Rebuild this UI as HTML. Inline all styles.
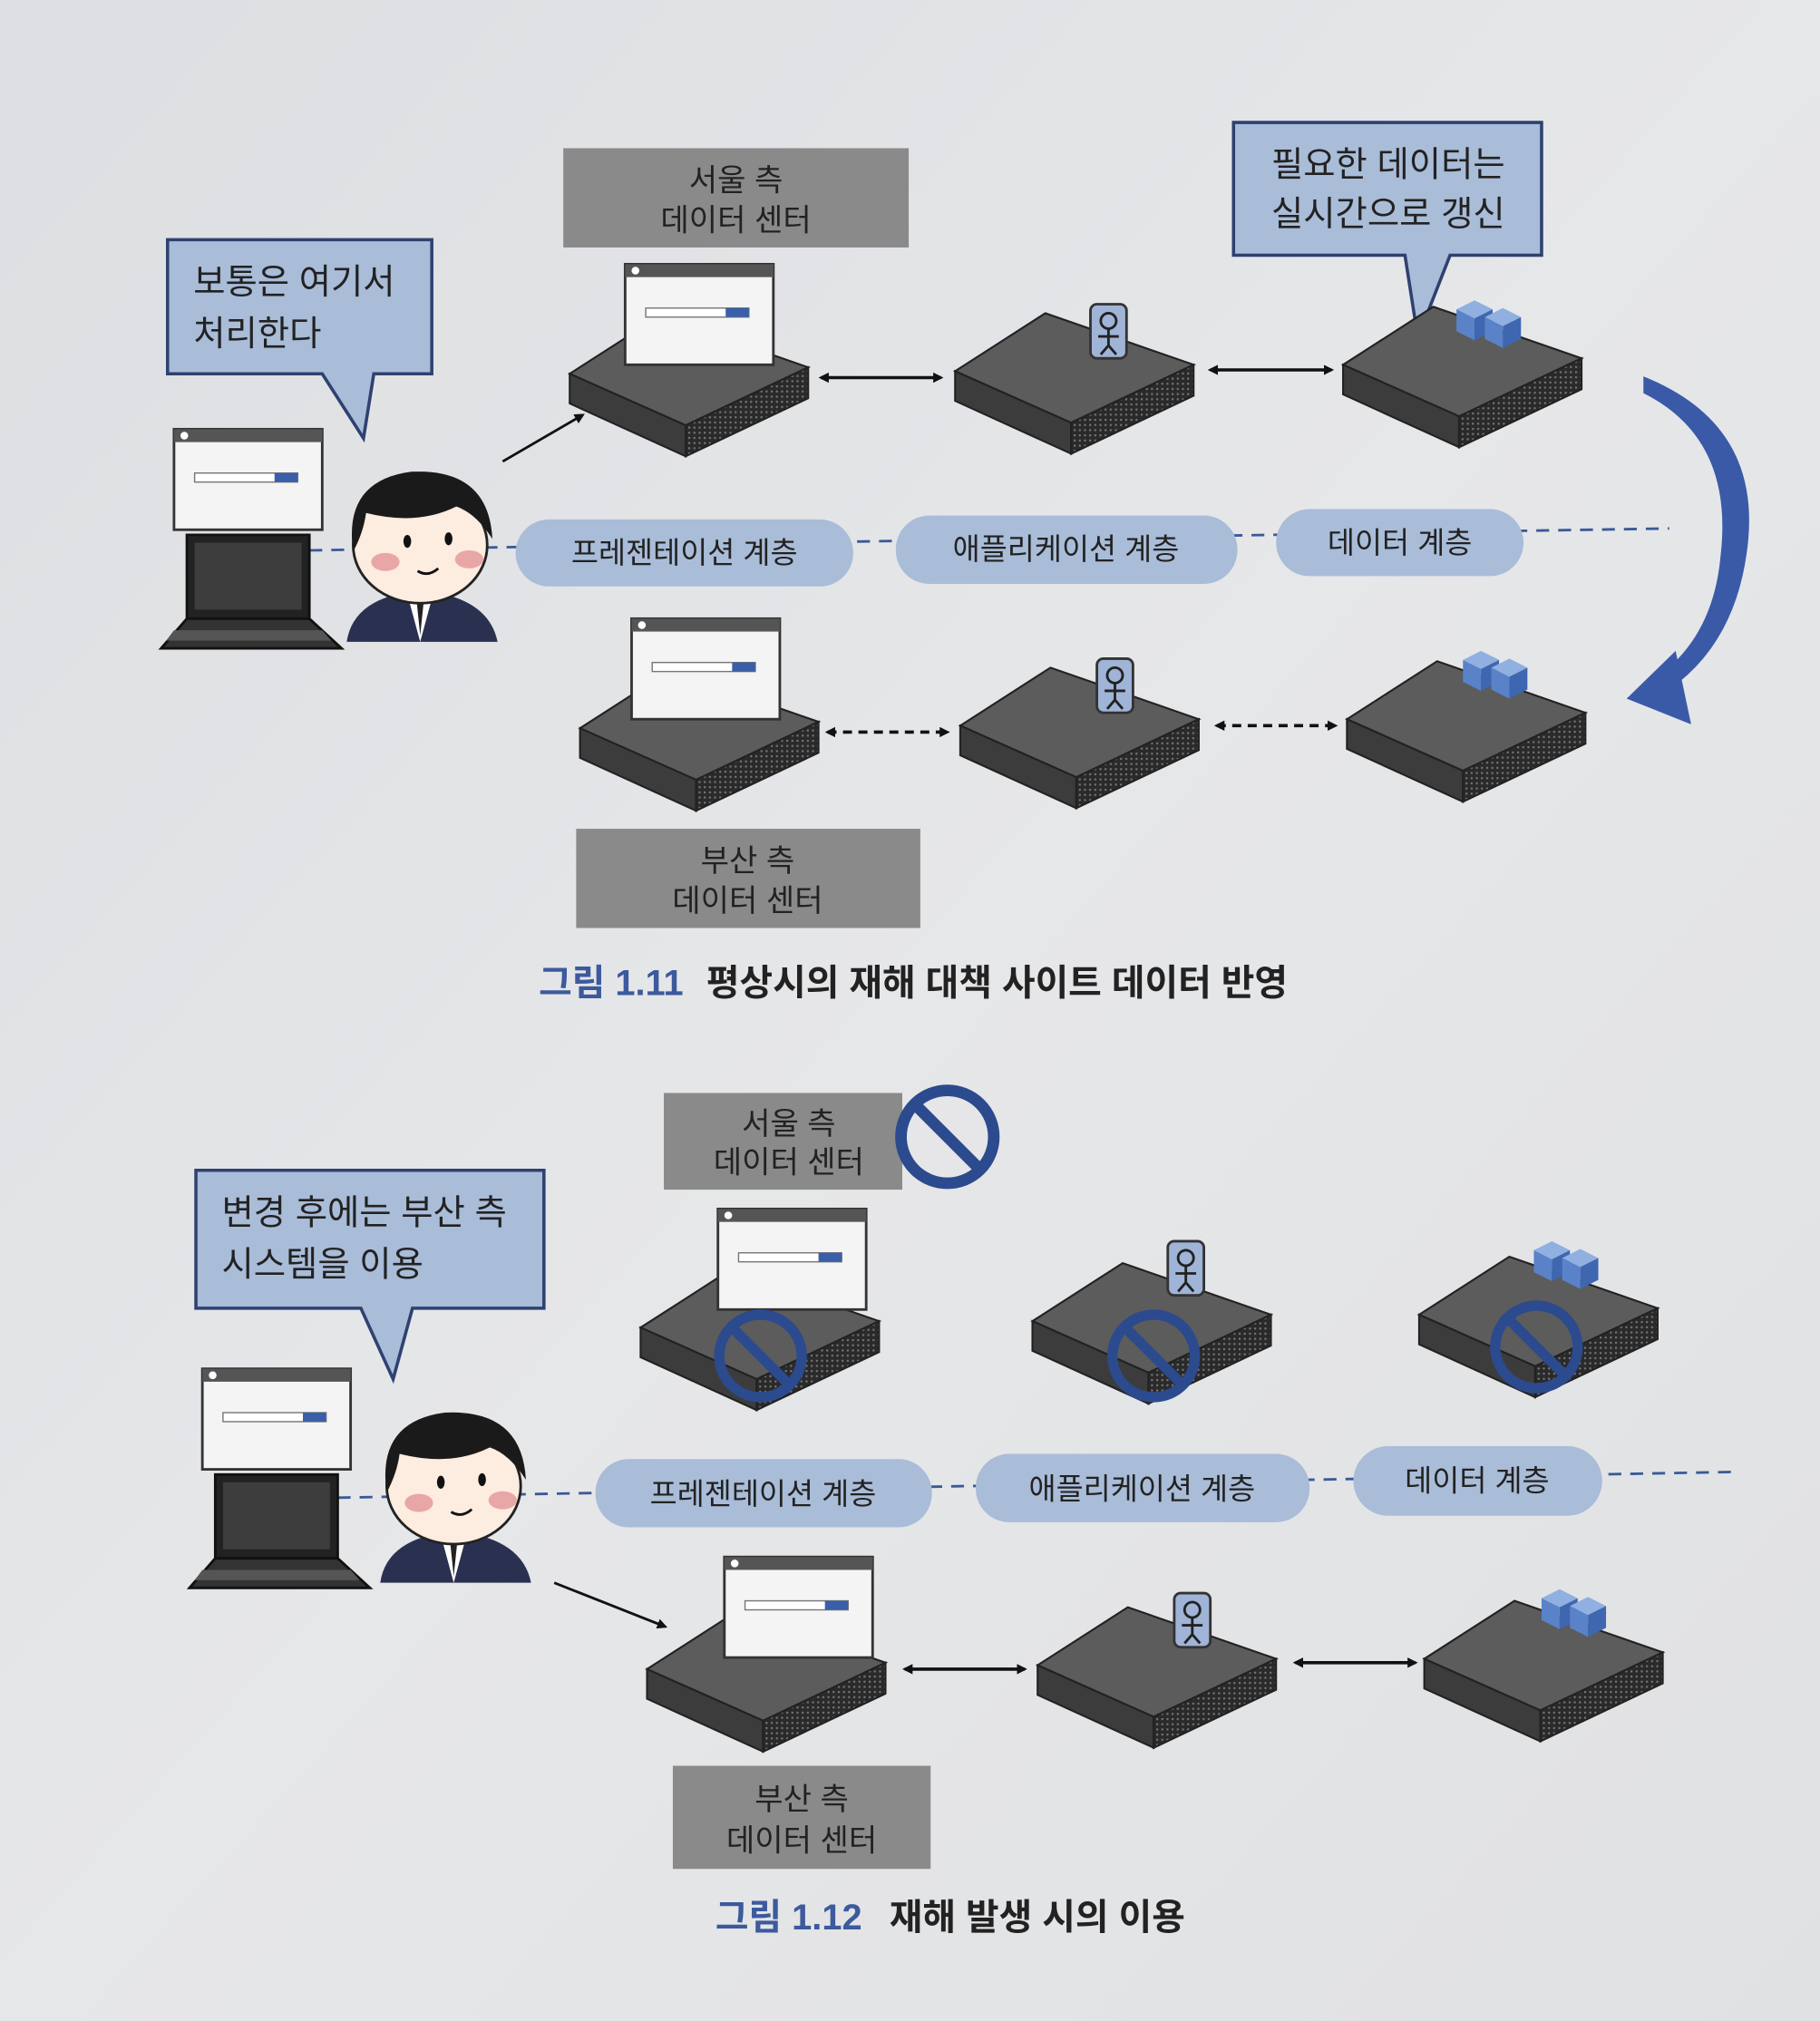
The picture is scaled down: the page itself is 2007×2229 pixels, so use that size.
<!DOCTYPE html>
<html><head><meta charset="utf-8">
<style>
html,body{margin:0;padding:0;background:#e3e4e6;}
svg{display:block;}
text{font-family:"Liberation Sans","Noto Sans CJK KR",sans-serif;}
</style></head>
<body>
<svg width="2007" height="2229" viewBox="0 0 1412 1568" preserveAspectRatio="none" xmlns="http://www.w3.org/2000/svg">
<defs>
<linearGradient id="bg" x1="0" y1="0" x2="1" y2="1">
<stop offset="0" stop-color="#dcdee1"/><stop offset="0.5" stop-color="#e6e7e9"/><stop offset="1" stop-color="#e0e1e3"/>
</linearGradient>
<pattern id="vent" width="4" height="4" patternUnits="userSpaceOnUse">
<rect width="4" height="4" fill="#2a2a2a"/><rect x="1" y="1" width="1.5" height="1.5" fill="#777"/>
</pattern>
<g id="server">
<polygon points="-95,0 -25,-45 90,-5 -5,40" fill="#5c5c5c" stroke="#222" stroke-width="1.5"/>
<polygon points="-95,0 -5,40 -5,64 -95,23" fill="#3c3c3c" stroke="#222" stroke-width="1.5"/>
<polygon points="-5,40 90,-5 90,19 -5,64" fill="url(#vent)" stroke="#222" stroke-width="1.5"/>
</g>
<g id="browser">
<rect x="0" y="0" width="115" height="78" fill="#f4f4f4" stroke="#333" stroke-width="2"/>
<rect x="0" y="0" width="115" height="10" fill="#555"/>
<circle cx="8" cy="5" r="3" fill="#fff"/>
<rect x="16" y="34" width="80" height="7" fill="#fff" stroke="#777"/>
<rect x="78" y="34" width="18" height="7" fill="#3a5fa8"/>
</g>
<g id="personicon">
<rect x="-14" y="-22" width="28" height="42" rx="5" fill="#9fb4d6" stroke="#333" stroke-width="2"/>
<circle cx="0" cy="-9" r="6" fill="none" stroke="#222" stroke-width="2"/>
<path d="M0,-3 V10 M-8,3 H8 M0,10 L-6,17 M0,10 L6,17" stroke="#222" stroke-width="2" fill="none"/>
</g>
<g id="cubes">
<polygon points="0,0 14,-7 28,0 14,7" fill="#8fb0e0"/><polygon points="0,0 14,7 14,24 0,17" fill="#5a82c8"/><polygon points="14,7 28,0 28,17 14,24" fill="#3f66b0"/>
<polygon points="22,6 36,-1 50,6 36,13" fill="#8fb0e0"/><polygon points="22,6 36,13 36,30 22,23" fill="#5a82c8"/><polygon points="36,13 50,6 50,23 36,30" fill="#3f66b0"/>
</g>
<g id="pc">
<use href="#browser" x="0" y="0"/>
<rect x="10" y="82" width="95" height="65" fill="#222" stroke="#111" stroke-width="2"/>
<rect x="16" y="88" width="83" height="52" fill="#3d3d3d"/>
<polygon points="10,147 105,147 130,170 -10,170" fill="#333" stroke="#111" stroke-width="2"/>
<polygon points="0,156 115,156 122,164 -6,164" fill="#555"/>
</g>
<g id="guy">
<path d="M5,140 Q10,105 62,100 Q115,105 122,140 Z" fill="#2a3150"/>
<polygon points="52,103 62,140 72,103" fill="#fff"/>
<polygon points="59,106 62,135 65,106" fill="#222"/>
<ellipse cx="62" cy="65" rx="52" ry="45" fill="#fdece0" stroke="#222" stroke-width="2"/>
<path d="M10,70 Q2,15 55,8 Q115,5 118,60 Q105,40 90,35 Q60,50 20,40 Q18,55 10,70 Z" fill="#1a1a1a"/>
<ellipse cx="35" cy="78" rx="11" ry="7" fill="#e9a6a6"/>
<ellipse cx="100" cy="76" rx="11" ry="7" fill="#e9a6a6"/>
<ellipse cx="52" cy="62" rx="3" ry="5" fill="#111"/>
<ellipse cx="84" cy="60" rx="3" ry="5" fill="#111"/>
<path d="M60,85 Q68,90 76,83" stroke="#111" stroke-width="2" fill="none"/>
</g>
<g id="nosign">
<circle cx="0" cy="0" r="32" fill="none" stroke="#2c4a8e" stroke-width="8"/>
<line x1="-22" y1="-22" x2="22" y2="22" stroke="#2c4a8e" stroke-width="8"/>
</g>
<marker id="ah" markerWidth="8" markerHeight="8" refX="6" refY="4" orient="auto-start-reverse" markerUnits="userSpaceOnUse"><path d="M0,0 L8,4 L0,8 Z" fill="#111"/></marker>
</defs>
<rect width="1412" height="1568" fill="url(#bg)"/>

<rect x="437" y="115" width="268" height="77" fill="#8a8a8a"/>
<text x="571" y="148" font-size="24" text-anchor="middle" fill="#222">서울 측</text>
<text x="571" y="179" font-size="24" text-anchor="middle" fill="#222">데이터 센터</text>

<path d="M957,95 H1196 V198 H1125 L1100,262 L1090,198 H957 Z" fill="#a9bcd8" stroke="#2e4170" stroke-width="2.5"/>
<text x="1077" y="137" font-size="27" text-anchor="middle" fill="#222">필요한 데이터는</text>
<text x="1077" y="175" font-size="27" text-anchor="middle" fill="#222">실시간으로 갱신</text>

<path d="M130,186 H335 V290 H290 L282,340 L250,290 H130 Z" fill="#a9bcd8" stroke="#2e4170" stroke-width="2.5"/>
<text x="150" y="228" font-size="27" fill="#222">보통은 여기서</text>
<text x="150" y="268" font-size="27" fill="#222">처리한다</text>

<line x1="240" y1="427" x2="1295" y2="410" stroke="#3a5a96" stroke-width="2" stroke-dasharray="10,7"/>
<rect x="400" y="403" width="262" height="52" rx="26" fill="#a9bcd8"/>
<text x="531" y="437" font-size="23" text-anchor="middle" fill="#222">프레젠테이션 계층</text>
<rect x="695" y="400" width="265" height="53" rx="26" fill="#a9bcd8"/>
<text x="827" y="434" font-size="23" text-anchor="middle" fill="#222">애플리케이션 계층</text>
<rect x="990" y="395" width="192" height="52" rx="26" fill="#a9bcd8"/>
<text x="1086" y="429" font-size="23" text-anchor="middle" fill="#222">데이터 계층</text>

<use href="#pc" x="135" y="333"/>
<use href="#guy" x="264" y="358"/>
<line x1="390" y1="358" x2="452" y2="322" stroke="#111" stroke-width="2" marker-end="url(#ah)"/>

<use href="#server" x="537" y="290"/>
<use href="#browser" x="485" y="205"/>
<use href="#server" x="836" y="288"/>
<use href="#personicon" x="860" y="258"/>
<use href="#server" x="1137" y="283"/>
<use href="#cubes" x="1130" y="240"/>
<line x1="637" y1="293" x2="730" y2="293" stroke="#111" stroke-width="2.5" marker-start="url(#ah)" marker-end="url(#ah)"/>
<line x1="939" y1="287" x2="1033" y2="287" stroke="#111" stroke-width="2.5" marker-start="url(#ah)" marker-end="url(#ah)"/>

<use href="#server" x="545" y="565"/>
<use href="#browser" x="490" y="480"/>
<use href="#server" x="840" y="563"/>
<use href="#personicon" x="865" y="533"/>
<use href="#server" x="1140" y="558"/>
<use href="#cubes" x="1135" y="512"/>
<line x1="642" y1="568" x2="735" y2="568" stroke="#111" stroke-width="2.5" stroke-dasharray="7,5" marker-start="url(#ah)" marker-end="url(#ah)"/>
<line x1="944" y1="563" x2="1036" y2="563" stroke="#111" stroke-width="2.5" stroke-dasharray="7,5" marker-start="url(#ah)" marker-end="url(#ah)"/>

<path d="M1275,292 Q1370,330 1355,430 Q1345,500 1295,535 L1290,522 Q1330,490 1335,430 Q1345,340 1275,305 Z" fill="#3a5aa8"/>
<polygon points="1262,542 1300,505 1312,562" fill="#3a5aa8"/>

<rect x="447" y="643" width="267" height="77" fill="#8a8a8a"/>
<text x="580" y="676" font-size="24" text-anchor="middle" fill="#222">부산 측</text>
<text x="580" y="707" font-size="24" text-anchor="middle" fill="#222">데이터 센터</text>

<text x="418" y="772" font-size="28" font-weight="bold" fill="#3c5a9c">그림 1.11</text>
<text x="548" y="772" font-size="28" font-weight="bold" fill="#222">평상시의 재해 대책 사이트 데이터 반영</text>

<rect x="515" y="848" width="185" height="75" fill="#8a8a8a"/>
<text x="612" y="880" font-size="24" text-anchor="middle" fill="#222">서울 측</text>
<text x="612" y="910" font-size="24" text-anchor="middle" fill="#222">데이터 센터</text>
<circle cx="735" cy="882" r="36" fill="none" stroke="#2c4a8e" stroke-width="9"/>
<line x1="710" y1="857" x2="760" y2="907" stroke="#2c4a8e" stroke-width="9"/>

<path d="M152,908 H422 V1015 H320 L305,1070 L280,1015 H152 Z" fill="#a9bcd8" stroke="#2e4170" stroke-width="2.5"/>
<text x="172" y="950" font-size="27" fill="#222">변경 후에는 부산 측</text>
<text x="172" y="990" font-size="27" fill="#222">시스템을 이용</text>

<use href="#server" x="592" y="1030"/>
<use href="#browser" x="557" y="938"/>
<use href="#nosign" x="590" y="1052"/>
<use href="#server" x="896" y="1025"/>
<use href="#personicon" x="920" y="985"/>
<use href="#nosign" x="895" y="1052"/>
<use href="#server" x="1196" y="1020"/>
<use href="#cubes" x="1190" y="970"/>
<use href="#nosign" x="1192" y="1045"/>

<line x1="262" y1="1162" x2="1345" y2="1142" stroke="#3a5a96" stroke-width="2" stroke-dasharray="10,7"/>
<rect x="462" y="1132" width="261" height="53" rx="26" fill="#a9bcd8"/>
<text x="592" y="1167" font-size="23" text-anchor="middle" fill="#222">프레젠테이션 계층</text>
<rect x="757" y="1128" width="259" height="53" rx="26" fill="#a9bcd8"/>
<text x="886" y="1163" font-size="23" text-anchor="middle" fill="#222">애플리케이션 계층</text>
<rect x="1050" y="1122" width="193" height="54" rx="27" fill="#a9bcd8"/>
<text x="1146" y="1157" font-size="23" text-anchor="middle" fill="#222">데이터 계층</text>

<use href="#pc" x="157" y="1062"/>
<use href="#guy" x="290" y="1088"/>
<line x1="430" y1="1228" x2="516" y2="1262" stroke="#111" stroke-width="2" marker-end="url(#ah)"/>

<use href="#server" x="597" y="1295"/>
<use href="#browser" x="562" y="1208"/>
<use href="#server" x="900" y="1292"/>
<use href="#personicon" x="925" y="1258"/>
<use href="#server" x="1200" y="1287"/>
<use href="#cubes" x="1196" y="1240"/>
<line x1="702" y1="1295" x2="795" y2="1295" stroke="#111" stroke-width="2.5" marker-start="url(#ah)" marker-end="url(#ah)"/>
<line x1="1005" y1="1290" x2="1098" y2="1290" stroke="#111" stroke-width="2.5" marker-start="url(#ah)" marker-end="url(#ah)"/>

<rect x="522" y="1370" width="200" height="80" fill="#8a8a8a"/>
<text x="622" y="1404" font-size="24" text-anchor="middle" fill="#222">부산 측</text>
<text x="622" y="1436" font-size="24" text-anchor="middle" fill="#222">데이터 센터</text>

<text x="555" y="1497" font-size="28" font-weight="bold" fill="#3c5a9c">그림 1.12</text>
<text x="690" y="1497" font-size="28" font-weight="bold" fill="#222">재해 발생 시의 이용</text>
</svg>
</body></html>
